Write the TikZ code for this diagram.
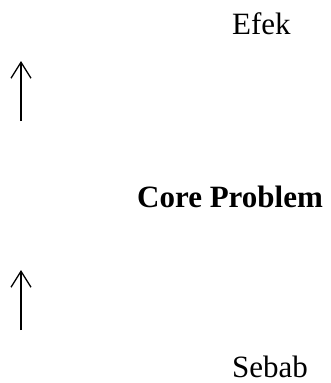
\documentclass[tikz,border=0pt]{standalone}
\usepackage{fontspec}
\setmainfont{Liberation Serif}
\usetikzlibrary{arrows.meta}
\begin{document}
\begin{tikzpicture}[x=1pt,y=-1pt,
  lbl/.style={anchor=base west,inner sep=0pt,font=\fontsize{31}{37}\selectfont},
  uparrow/.style={line width=1.3pt,-{Straight Barb[length=16pt,width=20pt,line width=1.3pt]}}]
\useasboundingbox (0,0) rectangle (330,383);
\node[lbl] (efek) at (232,34) {Efek};
\node[lbl,font=\fontsize{31}{37}\selectfont\bfseries] (core) at (137,207) {Core Problem};
\node[lbl] (sebab) at (232,377) {Sebab};
\coordinate (a1s) at (21,121);
\coordinate (a1e) at (21,61);
\coordinate (a2s) at (21,330);
\coordinate (a2e) at (21,270);
\draw[uparrow] (a1s) -- (a1e);
\draw[uparrow] (a2s) -- (a2e);
\end{tikzpicture}
\end{document}
